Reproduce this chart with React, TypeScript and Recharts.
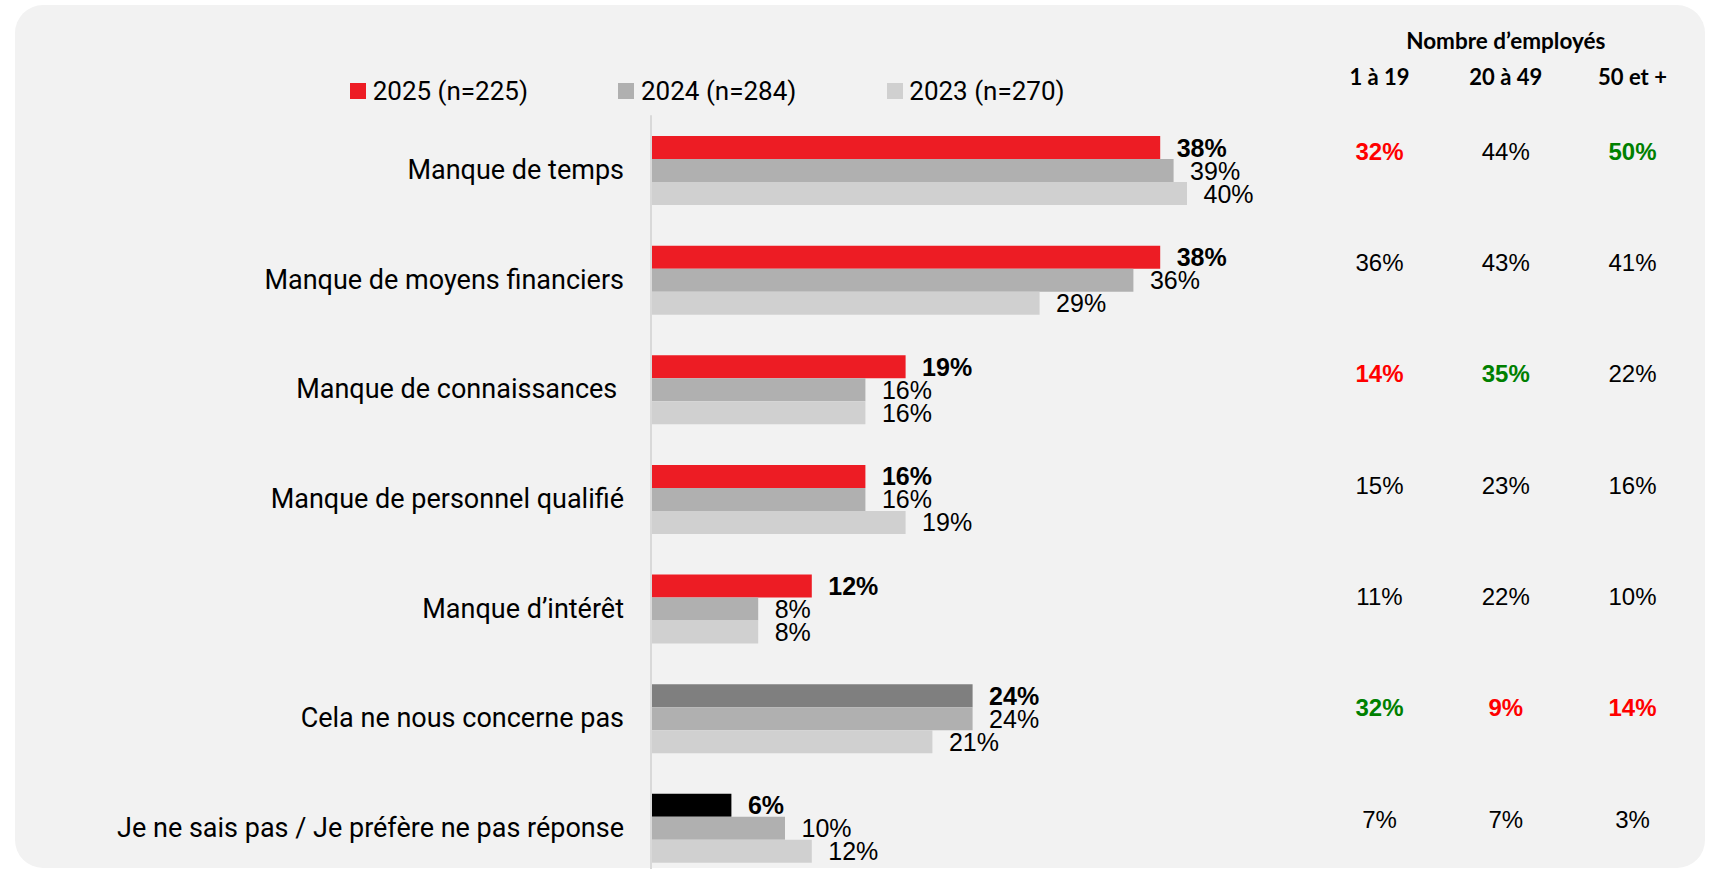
import { BarChart, Bar, XAxis, YAxis, Cell, LabelList, Legend } from 'recharts';

// Obstacles (categories) and shares per survey year, in %
const categories = [
    'Manque de temps',
    'Manque de moyens financiers',
    'Manque de connaissances ',
    'Manque de personnel qualifié',
    'Manque d’intérêt',
    'Cela ne nous concerne pas',
    'Je ne sais pas / Je préfère ne pas réponse',
];
const values2025 = [38, 38, 19, 16, 12, 24, 6];
const values2024 = [39, 36, 16, 16, 8, 24, 10];
const values2023 = [40, 29, 16, 19, 8, 21, 12];
const seriesNames = ['2025 (n=225)', '2024 (n=284)', '2023 (n=270)'];

// 2025 split by company size
const sizeTitle = 'Nombre d’employés';
const sizeGroups = ['1 à 19', '20 à 49', '50 et +'];
const size1to19 = [32, 36, 14, 15, 11, 32, 7];
const size20to49 = [44, 43, 35, 23, 22, 9, 7];
const size50plus = [50, 41, 22, 16, 10, 14, 3];
// 1 = significantly higher, -1 = significantly lower, 0 = nothing to flag
const flags1to19 = [-1, 0, -1, 0, 0, 1, 0];
const flags20to49 = [0, 0, 1, 0, 0, -1, 0];
const flags50plus = [1, 0, 0, 0, 0, -1, 0];

const RED = '#ED1C24';
const GREY_2024 = '#B0B0B0';
const GREY_2023 = '#D0D0D0';
// 2025 bar colour per category (non-answers are drawn in grey / black)
const colors2025 = [RED, RED, RED, RED, RED, '#7F7F7F', '#000000'];

const LABEL_FONT = "Roboto, 'Noto Sans', sans-serif";
const VALUE_FONT = "'Liberation Sans', Arial, sans-serif";
const TABLE_HEAD_FONT = "Lato, 'Open Sans', sans-serif";

const data = categories.map((name, i) => ({
    name,
    y2025: values2025[i],
    y2024: values2024[i],
    y2023: values2023[i],
}));

const sizeColumns = [
    { values: size1to19, flags: flags1to19 },
    { values: size20to49, flags: flags20to49 },
    { values: size50plus, flags: flags50plus },
];

function CategoryTick(props: any) {
    const { x, y, payload } = props;
    return (
        <text
            x={x}
            y={y}
            textAnchor="end"
            dominantBaseline="central"
            fontFamily={LABEL_FONT}
            fontSize={27}
            fill="#000"
            style={{ whiteSpace: 'pre' }}
        >
            {payload.value}
        </text>
    );
}

const valueLabel = (bold: boolean) => (props: any) => {
    const { x, y, width, height, value } = props;
    return (
        <text
            x={x + width + 16.5}
            y={y + height / 2}
            dominantBaseline="central"
            fontFamily={VALUE_FONT}
            fontSize={25}
            fontWeight={bold ? 700 : 400}
            fill="#000"
        >
            {value}%
        </text>
    );
};

function renderLegend(props: any) {
    // keep the series order (2025, 2024, 2023) whatever order the legend hands us
    const items = [...(props.payload ?? [])].sort(
        (a: any, b: any) => seriesNames.indexOf(a.value) - seriesNames.indexOf(b.value)
    );
    return (
        <div style={{ display: 'flex' }}>
            {items.map((entry: any) => (
                <div key={entry.value} style={{ width: 268.3, height: 30, display: 'flex', alignItems: 'center' }}>
                    <span style={{ width: 16, height: 16, background: entry.color, marginRight: 6.7, flexShrink: 0 }} />
                    <span style={{ fontFamily: LABEL_FONT, fontSize: 26, lineHeight: '30px', color: '#000', whiteSpace: 'nowrap' }}>
                        {entry.value}
                    </span>
                </div>
            ))}
        </div>
    );
}

function flagColor(flag: number) {
    if (flag > 0) return '#008000';
    if (flag < 0) return '#FF0000';
    return '#000';
}

// right-hand breakdown by number of employees
function SizeTable() {
    const colCenters = [1379.5, 1505.8, 1632.5];
    const firstRow = 151.7;
    const rowStep = 111.3;
    return (
        <>
            <div style={{ position: 'absolute', left: 1505.8 - 150, top: 40.5 - 15, width: 300, lineHeight: '30px', textAlign: 'center', fontFamily: TABLE_HEAD_FONT, fontWeight: 700, fontSize: 22.5, color: '#000' }}>
                {sizeTitle}
            </div>
            {sizeGroups.map((g, c) => (
                <div key={g} style={{ position: 'absolute', left: colCenters[c] - 60, top: 77.3 - 15, width: 120, lineHeight: '30px', textAlign: 'center', fontFamily: TABLE_HEAD_FONT, fontWeight: 700, fontSize: 22, color: '#000' }}>
                    {g}
                </div>
            ))}
            {sizeColumns.map((col, c) =>
                col.values.map((v, r) => (
                    <div
                        key={`${c}-${r}`}
                        style={{
                            position: 'absolute',
                            left: colCenters[c] - 60,
                            top: firstRow + r * rowStep - 15,
                            width: 120,
                            lineHeight: '30px',
                            textAlign: 'center',
                            fontFamily: VALUE_FONT,
                            fontSize: 24,
                            fontWeight: col.flags[r] !== 0 ? 700 : 400,
                            color: flagColor(col.flags[r]),
                        }}
                    >
                        {v}%
                    </div>
                ))
            )}
        </>
    );
}

export default function App() {
    return (
        <div style={{ position: 'absolute', left: 0, top: 0, width: 1711, height: 869, overflow: 'hidden', background: '#fff' }}>
            <div style={{ position: 'absolute', left: 15, top: 5, width: 1690, height: 863, borderRadius: 28, background: '#F2F2F2' }} />
            <div style={{ position: 'absolute', left: 0, top: 0 }}>
                <BarChart
                    width={1711}
                    height={900}
                    layout="vertical"
                    data={data}
                    margin={{ top: 115.2, right: 390, bottom: 17.4, left: 0 }}
                    barCategoryGap={20.8}
                    barGap={0}
                >
                    <XAxis type="number" domain={[0, 50]} hide />
                    <YAxis
                        type="category"
                        dataKey="name"
                        width={651}
                        interval={0}
                        tickLine={false}
                        tickSize={0}
                        tickMargin={27}
                        axisLine={{ stroke: '#D9D9D9', strokeWidth: 2 }}
                        tick={(p: any) => <CategoryTick {...p} />}
                    />
                    <Legend
                        layout="vertical"
                        align="center"
                        verticalAlign="middle"
                        content={renderLegend}
                        wrapperStyle={{ position: 'absolute', left: 350, top: 76.3, width: 810 }}
                    />
                    <Bar dataKey="y2025" name={seriesNames[0]} fill={RED} isAnimationActive={false}>
                        {data.map((d, i) => (
                            <Cell key={d.name} fill={colors2025[i]} />
                        ))}
                        <LabelList dataKey="y2025" content={valueLabel(true)} />
                    </Bar>
                    <Bar dataKey="y2024" name={seriesNames[1]} fill={GREY_2024} isAnimationActive={false}>
                        <LabelList dataKey="y2024" content={valueLabel(false)} />
                    </Bar>
                    <Bar dataKey="y2023" name={seriesNames[2]} fill={GREY_2023} isAnimationActive={false}>
                        <LabelList dataKey="y2023" content={valueLabel(false)} />
                    </Bar>
                </BarChart>
            </div>
            <SizeTable />
        </div>
    );
}
